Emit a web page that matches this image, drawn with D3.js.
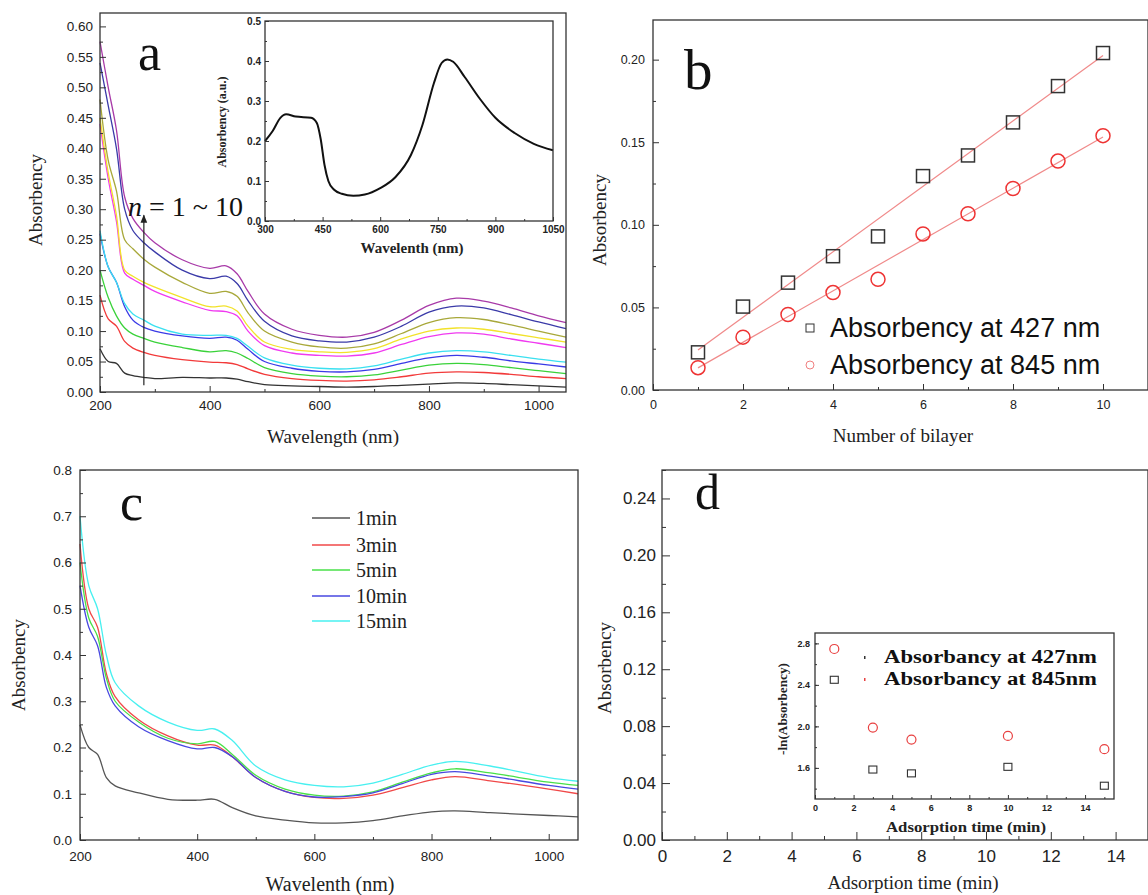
<!DOCTYPE html>
<html>
<head>
<meta charset="utf-8">
<script src="https://cdn.jsdelivr.net/npm/d3@7/dist/d3.min.js"></script>
<style>
  body { margin: 0; background: #fff; }
  svg { display: block; }
</style>
</head>
<body>
<div id="fig"></div>
<script>
'use strict';

// ---- panel a: UV-vis spectra for n = 1..10 bilayers ----
const waveA = [200, 215, 230, 245, 260, 280, 300, 350, 400, 430, 450, 470, 500, 550, 600, 650, 700, 750, 800, 850, 900, 950, 1000, 1050];
const bilayerSpectra = [
  [0.071, 0.05, 0.047, 0.031, 0.027, 0.024, 0.022, 0.024, 0.023, 0.023, 0.021, 0.017, 0.012, 0.010, 0.009, 0.008, 0.009, 0.011, 0.013, 0.015, 0.014, 0.012, 0.010, 0.008],
  [0.159, 0.12, 0.108, 0.083, 0.072, 0.065, 0.060, 0.053, 0.049, 0.048, 0.045, 0.038, 0.029, 0.022, 0.019, 0.018, 0.020, 0.025, 0.031, 0.033, 0.032, 0.029, 0.025, 0.022],
  [0.200, 0.155, 0.125, 0.105, 0.095, 0.088, 0.082, 0.073, 0.066, 0.068, 0.064, 0.055, 0.040, 0.030, 0.026, 0.025, 0.028, 0.036, 0.044, 0.047, 0.045, 0.040, 0.035, 0.030],
  [0.260, 0.205, 0.180, 0.140, 0.118, 0.106, 0.100, 0.092, 0.088, 0.090, 0.085, 0.070, 0.050, 0.039, 0.034, 0.033, 0.037, 0.047, 0.056, 0.060, 0.057, 0.051, 0.046, 0.041],
  [0.265, 0.205, 0.180, 0.145, 0.128, 0.118, 0.108, 0.095, 0.093, 0.093, 0.088, 0.075, 0.056, 0.044, 0.039, 0.038, 0.043, 0.054, 0.064, 0.068, 0.066, 0.060, 0.054, 0.049],
  [0.440, 0.350, 0.280, 0.195, 0.185, 0.175, 0.165, 0.148, 0.134, 0.132, 0.125, 0.100, 0.076, 0.064, 0.060, 0.059, 0.064, 0.078, 0.091, 0.097, 0.095, 0.087, 0.080, 0.073],
  [0.450, 0.360, 0.290, 0.200, 0.190, 0.180, 0.172, 0.155, 0.140, 0.141, 0.133, 0.108, 0.082, 0.070, 0.066, 0.065, 0.071, 0.087, 0.100, 0.105, 0.103, 0.096, 0.089, 0.082],
  [0.480, 0.380, 0.330, 0.250, 0.235, 0.218, 0.205, 0.180, 0.162, 0.165, 0.157, 0.130, 0.100, 0.082, 0.074, 0.072, 0.079, 0.096, 0.114, 0.122, 0.119, 0.110, 0.100, 0.090],
  [0.540, 0.470, 0.400, 0.300, 0.265, 0.245, 0.230, 0.200, 0.186, 0.190, 0.178, 0.150, 0.116, 0.092, 0.084, 0.082, 0.090, 0.108, 0.131, 0.141, 0.138, 0.127, 0.115, 0.104],
  [0.575, 0.500, 0.430, 0.320, 0.285, 0.262, 0.245, 0.217, 0.203, 0.207, 0.194, 0.165, 0.128, 0.103, 0.093, 0.090, 0.098, 0.118, 0.142, 0.154, 0.149, 0.138, 0.125, 0.114]
];
const bilayerColors = ['#333333', '#f23a3a', '#3ad23a', '#3a3ae6', '#3ae0f0', '#f03af0', '#f2e22a', '#a8a83a', '#3a3aa8', '#a83aa8'];

// inset of a: single spectrum
const waveInset = [300, 320, 340, 355, 380, 420, 435, 445, 455, 465, 480, 500, 530, 560, 600, 640, 680, 710, 740, 760, 775, 790, 820, 860, 900, 950, 1000, 1050];
const insetAbs = [0.200, 0.225, 0.258, 0.267, 0.261, 0.258, 0.245, 0.205, 0.140, 0.100, 0.078, 0.068, 0.063, 0.066, 0.082, 0.110, 0.165, 0.240, 0.345, 0.395, 0.404, 0.398, 0.360, 0.305, 0.258, 0.220, 0.193, 0.177];

// ---- panel b: absorbency vs number of bilayers ----
const bilayers = [1, 2, 3, 4, 5, 6, 7, 8, 9, 10];
const abs427 = [0.0228, 0.0505, 0.065, 0.081, 0.093, 0.1295, 0.142, 0.162, 0.184, 0.204];
const abs845 = [0.0135, 0.032, 0.0457, 0.059, 0.067, 0.0945, 0.1067, 0.122, 0.1386, 0.154];

// ---- panel c: spectra for different adsorption times ----
const waveC = [200, 215, 230, 245, 260, 300, 350, 400, 430, 460, 500, 550, 600, 650, 700, 750, 800, 840, 900, 1000, 1050];
const timeLabels = ['1min', '3min', '5min', '10min', '15min'];
const timeSpectra = [
  [0.249, 0.200, 0.185, 0.135, 0.117, 0.102, 0.088, 0.086, 0.088, 0.070, 0.052, 0.043, 0.037, 0.037, 0.042, 0.052, 0.061, 0.063, 0.059, 0.053, 0.050],
  [0.640, 0.500, 0.460, 0.360, 0.310, 0.260, 0.225, 0.205, 0.205, 0.180, 0.135, 0.105, 0.092, 0.090, 0.097, 0.113, 0.130, 0.137, 0.128, 0.110, 0.100],
  [0.600, 0.480, 0.440, 0.350, 0.300, 0.255, 0.220, 0.208, 0.213, 0.185, 0.140, 0.110, 0.097, 0.095, 0.104, 0.125, 0.145, 0.154, 0.145, 0.125, 0.118],
  [0.550, 0.460, 0.420, 0.330, 0.290, 0.245, 0.215, 0.197, 0.200, 0.180, 0.135, 0.105, 0.093, 0.094, 0.102, 0.122, 0.142, 0.148, 0.138, 0.118, 0.110],
  [0.700, 0.550, 0.500, 0.400, 0.340, 0.290, 0.255, 0.237, 0.240, 0.215, 0.160, 0.130, 0.118, 0.115, 0.123, 0.142, 0.162, 0.170, 0.160, 0.135, 0.127]
];
const timeColors = ['#555555', '#f04848', '#48e048', '#4848e0', '#48f0f0'];

// ---- panel d inset: -ln(absorbency) vs adsorption time ----
const adsTimes = [1, 3, 5, 10, 15];
const lnAbs845 = [2.746, 1.988, 1.873, 1.908, 1.78];
const lnAbs427 = [2.449, 1.584, 1.547, 1.61, 1.428];

const serif = '"Liberation Serif", "Times New Roman", serif';
const sans = '"Liberation Sans", Arial, sans-serif';

const svg = d3.select('#fig').append('svg').attr('width', 1148).attr('height', 895);

svg.append('defs').append('marker')
    .attr('id', 'arrow').attr('viewBox', '0 0 10 10').attr('refX', 9).attr('refY', 5)
    .attr('markerWidth', 7).attr('markerHeight', 9).attr('orient', 'auto')
    .append('path').attr('d', 'M0,1 L10,5 L0,9 Z').attr('fill', '#222');

// draws inward ticks, labels and the frame box
function frame(g, x, y, o) {
    const [xa, xb] = x.range();
    const [ya, yb] = y.range();
    const noDomain = s => s.select('.domain').remove();

    g.append('g').attr('transform', 'translate(0,' + ya + ')')
        .call(d3.axisBottom(x).tickValues(o.xMinor).tickSize(-o.minor).tickFormat(''))
        .call(noDomain);
    g.append('g').attr('transform', 'translate(' + xa + ',0)')
        .call(d3.axisLeft(y).tickValues(o.yMinor).tickSize(-o.minor).tickFormat(''))
        .call(noDomain);

    const xAxis = g.append('g').attr('transform', 'translate(0,' + ya + ')')
        .call(d3.axisBottom(x).tickValues(o.xTicks).tickSize(-o.major).tickPadding(o.xPad).tickFormat(o.xFmt))
        .call(noDomain);
    const yAxis = g.append('g').attr('transform', 'translate(' + xa + ',0)')
        .call(d3.axisLeft(y).tickValues(o.yTicks).tickSize(-o.major).tickPadding(o.yPad).tickFormat(o.yFmt))
        .call(noDomain);

    g.selectAll('.tick line').attr('stroke', '#333').attr('stroke-width', 1);
    [xAxis, yAxis].forEach(function (a) {
        a.selectAll('text')
            .style('font-family', o.font || sans)
            .style('font-size', o.size + 'px')
            .style('font-weight', o.weight || 'normal')
            .attr('fill', '#222');
    });

    g.append('rect')
        .attr('x', xa).attr('y', yb)
        .attr('width', xb - xa).attr('height', ya - yb)
        .attr('fill', 'none').attr('stroke', '#333').attr('stroke-width', 1.3);
}

function title(g, txt, x, y, size, rotate, extra) {
    const t = g.append('text')
        .attr('text-anchor', 'middle')
        .attr('font-family', serif)
        .attr('font-size', size)
        .attr('fill', '#222')
        .text(txt);
    if (rotate) {
        t.attr('transform', 'translate(' + x + ',' + y + ') rotate(-90)').attr('dy', '0.35em');
    } else {
        t.attr('x', x).attr('y', y).attr('dy', '0.35em');
    }
    if (extra) extra(t);
    return t;
}

const rangeStep = (a, b, s) => d3.range(a, b + s / 2, s);
const smooth = d3.curveCatmullRom.alpha(0.5);

// ================= panel a =================
const gA = svg.append('g');
const xA = d3.scaleLinear().domain([200, 1050]).range([100, 566]);
const yA = d3.scaleLinear().domain([0, 0.622]).range([392, 13]);

const lineA = d3.line().curve(smooth)
    .x(function (d) { return xA(d[0]); })
    .y(function (d) { return yA(d[1]); });

gA.selectAll('.specA').data(bilayerSpectra).enter().append('path')
    .attr('class', 'specA')
    .attr('d', function (s) { return lineA(s.map(function (v, i) { return [waveA[i], v]; })); })
    .attr('fill', 'none')
    .attr('stroke', function (d, i) { return bilayerColors[i]; })
    .attr('stroke-width', 1.3);

frame(gA, xA, yA, {
    xTicks: rangeStep(200, 1000, 200), xMinor: rangeStep(300, 900, 200),
    yTicks: rangeStep(0, 0.6, 0.05), yMinor: rangeStep(0.025, 0.6, 0.05),
    xFmt: d3.format('d'), yFmt: d3.format('.2f'),
    major: 6, minor: 3, xPad: 8, yPad: 7, size: 13.5
});

title(gA, 'Wavelength (nm)', 333, 436, 19);
title(gA, 'Absorbency', 35, 200, 19, true);

gA.append('text').attr('x', 138).attr('y', 70)
    .attr('font-family', serif).attr('font-size', 52).attr('fill', '#111').text('a');

gA.append('line')
    .attr('x1', xA(280)).attr('x2', xA(280))
    .attr('y1', yA(0.011)).attr('y2', yA(0.29))
    .attr('stroke', '#222').attr('stroke-width', 1.2)
    .attr('marker-end', 'url(#arrow)');

const nLabel = gA.append('text').attr('x', 128).attr('y', 216)
    .attr('font-family', serif).attr('font-size', 28).attr('fill', '#111');
nLabel.append('tspan').attr('font-style', 'italic').text('n');
nLabel.append('tspan').text(' = 1 ~ 10');

// inset of a
const gI = svg.append('g');
const xI = d3.scaleLinear().domain([300, 1050]).range([265, 553]);
const yI = d3.scaleLinear().domain([0, 0.5]).range([221, 21]);
gI.append('rect').attr('x', 265).attr('y', 21).attr('width', 288).attr('height', 200).attr('fill', '#fff');

const lineI = d3.line().curve(d3.curveMonotoneX)
    .x(function (d) { return xI(d[0]); })
    .y(function (d) { return yI(d[1]); });
gI.append('path')
    .attr('d', lineI(insetAbs.map(function (v, i) { return [waveInset[i], v]; })))
    .attr('fill', 'none').attr('stroke', '#111').attr('stroke-width', 2);

frame(gI, xI, yI, {
    xTicks: rangeStep(300, 1050, 150), xMinor: rangeStep(375, 975, 150),
    yTicks: rangeStep(0, 0.5, 0.1), yMinor: rangeStep(0.05, 0.45, 0.1),
    xFmt: d3.format('d'), yFmt: d3.format('.1f'),
    major: 4, minor: 2, xPad: 5, yPad: 4, size: 10, weight: 'bold'
});
title(gI, 'Wavelenth (nm)', 412, 248, 15, false, t => t.attr('font-weight', 'bold'));
title(gI, 'Absorbency (a.u.)', 222, 122, 12, true, t => t.attr('font-weight', 'bold'));

// ================= panel b =================
const gB = svg.append('g');
const xB = d3.scaleLinear().domain([0, 11]).range([653, 1148]);
const yB = d3.scaleLinear().domain([0, 0.224]).range([390, 20]);

frame(gB, xB, yB, {
    xTicks: rangeStep(0, 10, 2), xMinor: rangeStep(1, 9, 2),
    yTicks: rangeStep(0, 0.2, 0.05), yMinor: rangeStep(0.025, 0.2, 0.05),
    xFmt: d3.format('d'), yFmt: d3.format('.2f'),
    major: 6, minor: 3, xPad: 10, yPad: 8, size: 12.5
});

// least-squares lines through each series
function fit(xs, ys) {
    const mx = d3.mean(xs), my = d3.mean(ys);
    const slope = d3.sum(xs, (x, i) => (x - mx) * (ys[i] - my)) / d3.sum(xs, x => (x - mx) * (x - mx));
    return x => my + slope * (x - mx);
}
[abs427, abs845].forEach(function (ys) {
    const f = fit(bilayers, ys);
    const x0 = d3.min(bilayers), x1 = d3.max(bilayers);
    gB.append('line')
        .attr('x1', xB(x0)).attr('y1', yB(f(x0)))
        .attr('x2', xB(x1)).attr('y2', yB(f(x1)))
        .attr('stroke', '#f08a8a').attr('stroke-width', 1.2);
});

gB.selectAll('.sq').data(abs427).enter().append('rect')
    .attr('x', (d, i) => xB(bilayers[i]) - 6.5)
    .attr('y', d => yB(d) - 6.5)
    .attr('width', 13).attr('height', 13)
    .attr('fill', 'none').attr('stroke', '#333').attr('stroke-width', 1.5);

gB.selectAll('.ci').data(abs845).enter().append('circle')
    .attr('cx', (d, i) => xB(bilayers[i]))
    .attr('cy', d => yB(d))
    .attr('r', 7)
    .attr('fill', 'none').attr('stroke', '#ee3333').attr('stroke-width', 1.5);

title(gB, 'Number of bilayer', 903, 435, 19);
title(gB, 'Absorbency', 599, 220, 19, true);
gB.append('text').attr('x', 684).attr('y', 89)
    .attr('font-family', serif).attr('font-size', 57).attr('fill', '#111').text('b');

const legB = [
    { label: 'Absorbency at 427 nm', y: 328, shape: 'sq' },
    { label: 'Absorbency at 845 nm', y: 365, shape: 'ci' }
];
legB.forEach(function (l) {
    if (l.shape === 'sq') {
        gB.append('rect').attr('x', 806).attr('y', l.y - 4).attr('width', 8).attr('height', 8)
            .attr('fill', 'none').attr('stroke', '#333').attr('stroke-width', 1);
    } else {
        gB.append('circle').attr('cx', 810).attr('cy', l.y).attr('r', 4)
            .attr('fill', 'none').attr('stroke', '#f08080').attr('stroke-width', 1);
    }
    gB.append('text').attr('x', 830).attr('y', l.y).attr('dy', '0.35em')
        .attr('font-family', sans).attr('font-size', 27).attr('fill', '#111').text(l.label);
});

// ================= panel c =================
const gC = svg.append('g');
const xC = d3.scaleLinear().domain([200, 1050]).range([80, 578]);
const yC = d3.scaleLinear().domain([0, 0.8]).range([840, 470]);

const lineC = d3.line().curve(smooth)
    .x(function (d) { return xC(d[0]); })
    .y(function (d) { return yC(d[1]); });

gC.selectAll('.specC').data(timeSpectra).enter().append('path')
    .attr('class', 'specC')
    .attr('d', s => lineC(s.map((v, i) => [waveC[i], v])))
    .attr('fill', 'none')
    .attr('stroke', (d, i) => timeColors[i])
    .attr('stroke-width', 1.3);

frame(gC, xC, yC, {
    xTicks: rangeStep(200, 1000, 200), xMinor: rangeStep(300, 900, 200),
    yTicks: rangeStep(0, 0.8, 0.1), yMinor: rangeStep(0.05, 0.75, 0.1),
    xFmt: d3.format('d'), yFmt: d3.format('.1f'),
    major: 6, minor: 3, xPad: 11, yPad: 8, size: 13.5
});

title(gC, 'Wavelenth (nm)', 330, 884, 20);
title(gC, 'Absorbency', 18, 665, 19, true);
gC.append('text').attr('x', 120).attr('y', 520)
    .attr('font-family', serif).attr('font-size', 52).attr('fill', '#111').text('c');

const legRows = [518, 545, 570, 596, 621];
timeLabels.forEach(function (lab, i) {
    gC.append('line').attr('x1', 312).attr('x2', 350).attr('y1', legRows[i]).attr('y2', legRows[i])
        .attr('stroke', timeColors[i]).attr('stroke-width', 1.3);
    gC.append('text').attr('x', 356).attr('y', legRows[i]).attr('dy', '0.35em')
        .attr('font-family', serif).attr('font-size', 20).attr('fill', '#222').text(lab);
});

// ================= panel d =================
const gD = svg.append('g');
const xD = d3.scaleLinear().domain([0, 15]).range([662, 1148]);
const yD = d3.scaleLinear().domain([0, 0.26]).range([840, 470]);

frame(gD, xD, yD, {
    xTicks: rangeStep(0, 14, 2), xMinor: rangeStep(1, 15, 2),
    yTicks: rangeStep(0, 0.24, 0.04), yMinor: rangeStep(0.02, 0.26, 0.04),
    xFmt: d3.format('d'), yFmt: d3.format('.2f'),
    major: 8, minor: 4, xPad: 10, yPad: 6, size: 17
});
title(gD, 'Adsorption time (min)', 913, 882, 19);
title(gD, 'Absorbency', 604, 668, 19, true);
gD.append('text').attr('x', 695).attr('y', 509)
    .attr('font-family', serif).attr('font-size', 50).attr('fill', '#111').text('d');

// inset of d
const gE = svg.append('g');
const xE = d3.scaleLinear().domain([0, 15.5]).range([815, 1114]);
const yE = d3.scaleLinear().domain([1.3, 2.9]).range([799, 633]);
gE.append('rect').attr('x', 815).attr('y', 633).attr('width', 299).attr('height', 166).attr('fill', '#fff');

frame(gE, xE, yE, {
    xTicks: rangeStep(0, 14, 2), xMinor: rangeStep(1, 15, 2),
    yTicks: rangeStep(1.6, 2.8, 0.4), yMinor: rangeStep(1.4, 2.8, 0.2),
    xFmt: d3.format('d'), yFmt: d3.format('.1f'),
    major: 4, minor: 2, xPad: 6, yPad: 5, size: 9, weight: 'bold'
});

gE.selectAll('.dci').data(lnAbs845).enter().append('circle')
    .attr('cx', (d, i) => xE(adsTimes[i])).attr('cy', d => yE(d)).attr('r', 4.5)
    .attr('fill', 'none').attr('stroke', '#e84040').attr('stroke-width', 1.2);
gE.selectAll('.dsq').data(lnAbs427).enter().append('rect')
    .attr('x', (d, i) => xE(adsTimes[i]) - 4).attr('y', d => yE(d) - 3.5)
    .attr('width', 8).attr('height', 7)
    .attr('fill', 'none').attr('stroke', '#333').attr('stroke-width', 1.1);

title(gE, 'Adsorption time (min)', 966, 827, 14, false,
    t => t.attr('font-weight', 'bold').attr('textLength', 160).attr('lengthAdjust', 'spacingAndGlyphs'));
title(gE, '-ln(Absorbency)', 782, 709, 13, true,
    t => t.attr('font-weight', 'bold').attr('textLength', 92).attr('lengthAdjust', 'spacingAndGlyphs'));

const legD = [
    { label: 'Absorbancy at 427nm', y: 657, color: '#333' },
    { label: 'Absorbancy at 845nm', y: 679, color: '#e84040' }
];
legD.forEach(function (l) {
    gE.append('rect').attr('x', 864).attr('y', l.y - 1).attr('width', 1.5).attr('height', 3).attr('fill', l.color);
    gE.append('text').attr('x', 884).attr('y', l.y).attr('dy', '0.35em')
        .attr('font-family', serif).attr('font-size', 18).attr('font-weight', 'bold')
        .attr('textLength', 213).attr('lengthAdjust', 'spacingAndGlyphs')
        .attr('fill', '#111').text(l.label);
});
</script>
</body>
</html>
